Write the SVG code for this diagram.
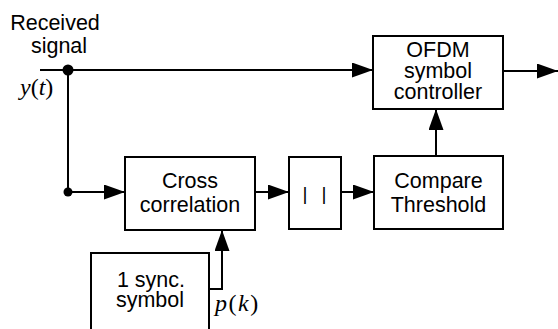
<svg xmlns="http://www.w3.org/2000/svg" width="558" height="329" viewBox="0 0 558 329">
  <style>
    .box { fill: #fff; stroke: #000; stroke-width: 2; }
    .lbl { font-family: "Liberation Sans", Arial, sans-serif; font-size: 21.5px; text-anchor: middle; fill: #000; }
    .math { font-family: "Liberation Serif", "Times New Roman", serif; font-size: 24px; fill: #000; }
    .it { font-style: italic; }
    .wire { fill: none; stroke: #000; stroke-width: 2; }
  </style>
  <defs>
    <marker id="arr" markerWidth="21" markerHeight="15" refX="21" refY="7.5" orient="auto" markerUnits="userSpaceOnUse">
      <path d="M0,0 L21,7.5 L0,15 Z" fill="#000"/>
    </marker>
  </defs>
  <rect width="558" height="329" fill="#fff"/>

  <g id="connectors">
    <path class="wire" d="M40,70 H373" marker-end="url(#arr)"/>
    <path class="wire" d="M68,70 V192 H125" marker-end="url(#arr)"/>
    <path class="wire" d="M255,192 H289" marker-end="url(#arr)"/>
    <path class="wire" d="M341,192 H374" marker-end="url(#arr)"/>
    <path class="wire" d="M436,156 V109" marker-end="url(#arr)"/>
    <path class="wire" d="M503,71 H558" marker-end="url(#arr)"/>
    <path class="wire" d="M209,289 H222 V230" marker-end="url(#arr)"/>
    <circle cx="68" cy="70" r="5.5" fill="#000"/>
    <circle cx="68" cy="192" r="4.5" fill="#000"/>
  </g>

  <g id="input-label">
    <text class="lbl" x="55" y="30">Received</text>
    <text class="lbl" x="59" y="53">signal</text>
    <text class="math" x="20" y="95"><tspan class="it">y</tspan>(<tspan class="it">t</tspan>)</text>
  </g>

  <g id="ofdm-controller">
    <rect class="box" x="373" y="36" width="130" height="73"/>
    <text class="lbl" x="438" y="57">OFDM</text>
    <text class="lbl" x="438" y="78">symbol</text>
    <text class="lbl" x="438" y="99">controller</text>
  </g>

  <g id="cross-correlation">
    <rect class="box" x="125" y="157" width="130" height="73"/>
    <text class="lbl" x="190" y="188">Cross</text>
    <text class="lbl" x="190" y="212">correlation</text>
  </g>

  <g id="magnitude">
    <rect class="box" x="289" y="157" width="52" height="72"/>
    <text class="lbl" x="305" y="200" style="font-size:19px">|</text>
    <text class="lbl" x="324" y="200" style="font-size:19px">|</text>
  </g>

  <g id="compare-threshold">
    <rect class="box" x="374" y="156" width="129" height="73"/>
    <text class="lbl" x="438.5" y="188">Compare</text>
    <text class="lbl" x="438.5" y="212">Threshold</text>
  </g>

  <g id="sync-symbol">
    <rect class="box" x="91" y="253" width="118" height="90"/>
    <text class="lbl" x="151" y="287">1 sync.</text>
    <text class="lbl" x="150" y="307">symbol</text>
    <text class="math" x="215" y="311" letter-spacing="1.5"><tspan class="it">p</tspan>(<tspan class="it">k</tspan>)</text>
  </g>
</svg>
